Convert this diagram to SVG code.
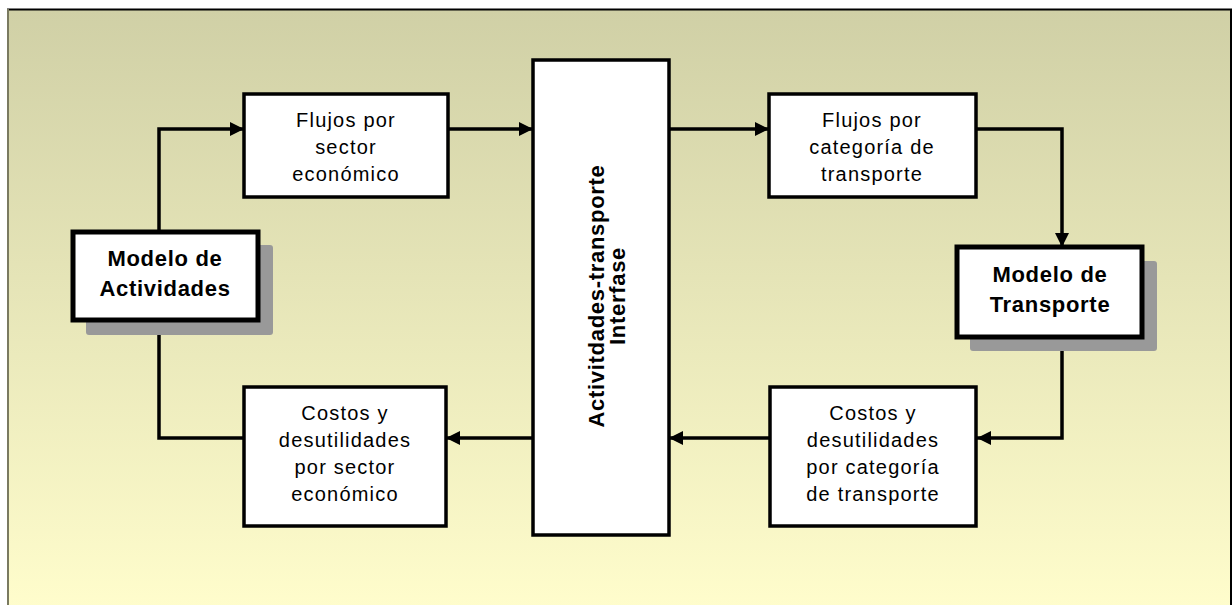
<svg xmlns="http://www.w3.org/2000/svg" width="1232" height="605" viewBox="0 0 1232 605">
<defs>
<linearGradient id="bg" x1="0" y1="0" x2="0" y2="1">
<stop offset="0" stop-color="#D0D0A6"/>
<stop offset="1" stop-color="#FFFDCC"/>
</linearGradient>
<marker id="ah" viewBox="0 0 14 14" refX="14" refY="7" markerWidth="14" markerHeight="14" markerUnits="userSpaceOnUse" orient="auto">
<path d="M0,0 L14,7 L0,14 Z" fill="#000"/>
</marker>
<style>
.box{fill:#fff;stroke:#000;stroke-width:3.5}
.mbox{fill:#fff;stroke:#000;stroke-width:5}
.shadow{fill:#999}
.t{font-family:"Liberation Sans",Arial,sans-serif;font-size:20px;letter-spacing:1.2px;text-anchor:middle;fill:#000}
.b{font-family:"Liberation Sans",Arial,sans-serif;font-size:22px;font-weight:bold;letter-spacing:0.7px;text-anchor:middle;fill:#000}
.c{fill:none;stroke:#000;stroke-width:3.5}
</style>
</defs>
<rect x="8" y="10" width="1230" height="600" fill="url(#bg)"/>
<line x1="7" y1="9.5" x2="1232" y2="9.5" stroke="#000" stroke-width="2"/>
<line x1="8" y1="9" x2="8" y2="605" stroke="#7a7a60" stroke-width="2"/>
<line x1="1231" y1="9" x2="1231" y2="605" stroke="#000" stroke-width="2"/>

<g id="connectors">
<polyline class="c" points="159,232 159,129 244,129" marker-end="url(#ah)"/>
<line class="c" x1="448" y1="129" x2="533" y2="129" marker-end="url(#ah)"/>
<line class="c" x1="669" y1="129" x2="769" y2="129" marker-end="url(#ah)"/>
<polyline class="c" points="976,129 1062,129 1062,247" marker-end="url(#ah)"/>
<polyline class="c" points="1062,337 1062,438 977,438" marker-end="url(#ah)"/>
<line class="c" x1="770" y1="438" x2="669" y2="438" marker-end="url(#ah)"/>
<line class="c" x1="533" y1="438" x2="446" y2="438" marker-end="url(#ah)"/>
<polyline class="c" points="243,438 159,438 159,320" marker-end="url(#ah)"/>
</g>

<g id="flujos-sector">
<rect class="box" x="244" y="94" width="204" height="103"/>
<text class="t" x="346" y="127">Flujos por</text>
<text class="t" x="346" y="154">sector</text>
<text class="t" x="346" y="181">económico</text>
</g>

<g id="interfase">
<rect class="box" x="533" y="60" width="136" height="475"/>
<text class="b" transform="translate(604,296) rotate(-90)">Activitdades-transporte</text>
<text class="b" transform="translate(625,296) rotate(-90)">Interfase</text>
</g>

<g id="flujos-categoria">
<rect class="box" x="769" y="94" width="207" height="103"/>
<text class="t" x="872" y="127">Flujos por</text>
<text class="t" x="872" y="154">categoría de</text>
<text class="t" x="872" y="181">transporte</text>
</g>

<g id="modelo-actividades">
<rect class="shadow" x="86" y="245" width="187" height="90" rx="3"/>
<rect class="mbox" x="73" y="232" width="185" height="88"/>
<text class="b" x="165" y="266">Modelo de</text>
<text class="b" x="165" y="296">Actividades</text>
</g>

<g id="modelo-transporte">
<rect class="shadow" x="970" y="261" width="187" height="90" rx="3"/>
<rect class="mbox" x="957" y="247" width="185" height="90"/>
<text class="b" x="1050" y="282">Modelo de</text>
<text class="b" x="1050" y="312">Transporte</text>
</g>

<g id="costos-categoria">
<rect class="box" x="770" y="387" width="206" height="139"/>
<text class="t" x="873" y="420">Costos y</text>
<text class="t" x="873" y="447">desutilidades</text>
<text class="t" x="873" y="474">por categoría</text>
<text class="t" x="873" y="501">de transporte</text>
</g>

<g id="costos-sector">
<rect class="box" x="244" y="387" width="202" height="139"/>
<text class="t" x="345" y="420">Costos y</text>
<text class="t" x="345" y="447">desutilidades</text>
<text class="t" x="345" y="474">por sector</text>
<text class="t" x="345" y="501">económico</text>
</g>
</svg>
